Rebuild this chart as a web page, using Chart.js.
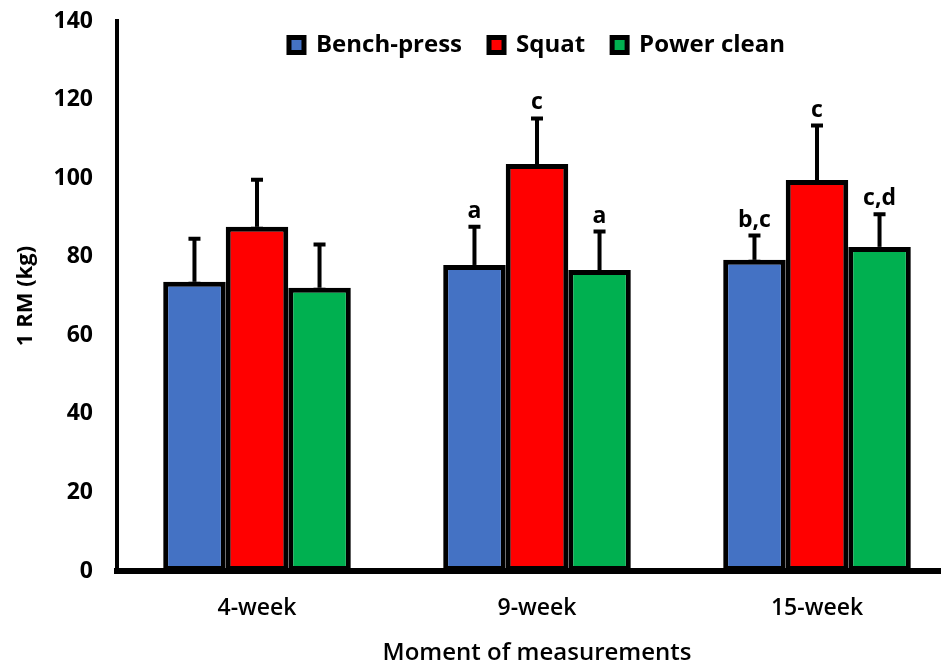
<!DOCTYPE html>
<html>
<head>
<meta charset="utf-8">
<script src="https://cdn.jsdelivr.net/npm/chart.js@4.4.1/dist/chart.umd.min.js"></script>
<style>
    html, body { margin: 0; padding: 0; background: #fff; overflow: hidden; }
    #wrap { width: 941px; height: 668px; overflow: hidden; }
</style>
</head>
<body>
<div id="wrap"><canvas id="chart" width="960" height="668"></canvas></div>
<script>
const categories = ['4-week', '9-week', '15-week'];
const benchPress = [73.6, 77.9, 79.2];
const benchPressSd = [11.0, 9.7, 6.2];
const squat = [87.6, 103.6, 99.5];
const squatSd = [12.0, 11.6, 13.9];
const powerClean = [72.1, 76.6, 82.5];
const powerCleanSd = [11.0, 9.8, 8.3];
const benchLetters = ['', 'a', 'b,c'];
const squatLetters = ['', 'c', 'c'];
const powerLetters = ['', 'a', 'c,d'];
const yTicks = [0, 20, 40, 60, 80, 100, 120, 140];

const FONT = '"Open Sans", "Noto Sans", sans-serif';
const LEGEND_PAD = 27;
const sds = [benchPressSd, squatSd, powerCleanSd];
const letters = [benchLetters, squatLetters, powerLetters];

// error bars and significance letters
const errorBarPlugin = {
    id: 'errorBars',
    afterDatasetsDraw(chart) {
        const ctx = chart.ctx;
        const yScale = chart.scales.y;
        ctx.save();
        ctx.strokeStyle = '#000';
        ctx.fillStyle = '#000';
        chart.data.datasets.forEach((ds, i) => {
            const meta = chart.getDatasetMeta(i);
            meta.data.forEach((bar, j) => {
                const x = bar.x;
                const yTop = yScale.getPixelForValue(ds.data[j] + sds[i][j]);
                const yBase = yScale.getPixelForValue(ds.data[j]);
                ctx.lineWidth = 4;
                ctx.beginPath();
                ctx.moveTo(x, yBase);
                ctx.lineTo(x, yTop);
                ctx.stroke();
                ctx.beginPath();
                ctx.moveTo(x - 6, yTop);
                ctx.lineTo(x + 6, yTop);
                ctx.moveTo(x - 6, yBase + 2);
                ctx.lineTo(x + 6, yBase + 2);
                ctx.stroke();
                const txt = letters[i][j];
                if (txt) {
                    ctx.font = 'bold 23px ' + FONT;
                    ctx.textAlign = 'center';
                    ctx.textBaseline = 'alphabetic';
                    ctx.fillText(txt, x, yTop - 9);
                }
            });
        });
        ctx.restore();
    }
};

// let the legend sit over the plot area instead of taking space above it
const overlayLegend = {
    id: 'overlayLegend',
    beforeLayout(chart) {
        const legend = chart.legend;
        if (legend && !legend._patched) {
            const fit = legend.fit;
            legend.fit = function () {
                fit.call(this);
                this._realHeight = this.height;
                this.height = 0;
            };
            legend._patched = true;
        }
    },
    afterLayout(chart) {
        const legend = chart.legend;
        if (legend && legend._realHeight) {
            legend.top -= LEGEND_PAD - 12;
            legend.height = legend._realHeight;
            legend.bottom = legend.top + legend.height;
        }
    }
};

new Chart(document.getElementById('chart'), {
    type: 'bar',
    data: {
        labels: categories,
        datasets: [
            { label: 'Bench-press', data: benchPress, backgroundColor: '#4472C4' },
            { label: 'Squat', data: squat, backgroundColor: '#FF0000' },
            { label: 'Power clean', data: powerClean, backgroundColor: '#00B050' }
        ].map(d => Object.assign(d, {
            borderColor: '#000',
            borderWidth: 5,
            borderSkipped: false,
            barPercentage: 1,
            categoryPercentage: 0.67
        }))
    },
    options: {
        responsive: false,
        animation: false,
        layout: { padding: { top: 21, right: 3, left: 0, bottom: 0 } },
        plugins: {
            tooltip: { enabled: false },
            legend: {
                position: 'top',
                fullSize: false,
                align: 'center',
                labels: {
                    color: '#000',
                    font: { family: FONT, size: 24, weight: 'bold' },
                    boxWidth: 15,
                    boxHeight: 15,
                    padding: LEGEND_PAD
                }
            }
        },
        scales: {
            x: {
                grid: { display: false, drawTicks: false },
                border: { display: true, color: '#000', width: 6 },
                ticks: { color: '#000', padding: 24, font: { family: FONT, size: 23, weight: '600' } },
                title: {
                    display: true,
                    text: 'Moment of measurements',
                    color: '#000',
                    font: { family: FONT, size: 24, weight: '600' },
                    padding: { top: 0, bottom: 0 }
                },
                afterFit(scale) { scale.height = 97; }
            },
            y: {
                min: 0,
                max: 140,
                afterBuildTicks(scale) { scale.ticks = yTicks.map(v => ({ value: v })); },
                grid: { display: false, drawTicks: false },
                border: { display: true, color: '#000', width: 4 },
                ticks: { color: '#000', padding: 24, font: { family: FONT, size: 23, weight: 'bold' } },
                title: {
                    display: true,
                    text: '1 RM (kg)',
                    color: '#000',
                    font: { family: FONT, size: 22, weight: 'bold' },
                    padding: { top: 13, bottom: 0 }
                },
                afterFit(scale) {
                    scale.width = 117;
                    scale.paddingTop = 0;
                    scale.paddingBottom = 0;
                }
            }
        }
    },
    plugins: [errorBarPlugin, overlayLegend]
});
</script>
</body>
</html>
